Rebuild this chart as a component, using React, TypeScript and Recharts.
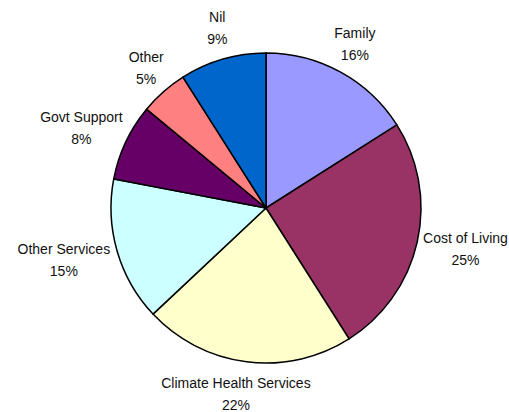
import React from 'react';
import { PieChart, Pie, Cell } from 'recharts';

const categories = [
  'Family',
  'Cost of Living',
  'Climate Health Services',
  'Other Services',
  'Govt Support',
  'Other',
  'Nil',
];
const shares = [16, 25, 22, 15, 8, 5, 9];
const colors = ['#9999FF', '#993366', '#FFFFCC', '#CCFFFF', '#660066', '#FF8080', '#0066CC'];

const data = categories.map((name, i) => ({ name, value: shares[i] }));

const WIDTH = 509;
const HEIGHT = 412;
const RADIAN = Math.PI / 180;
const GAP = 10;
const CHAR_W = 6.5;
const HALF_H = 22;
const FONT = "'Liberation Sans', Arial, sans-serif";

// label box pushed outward from the rim, like the Excel "outside end" labels
const renderLabel = (props: any) => {
  const { cx, cy, midAngle, outerRadius, name, value } = props;
  const ux = Math.cos(-midAngle * RADIAN);
  const uy = Math.sin(-midAngle * RADIAN);
  const halfW = (name.length * CHAR_W) / 2;
  let x = cx + ux * (outerRadius + GAP + halfW);
  const y = cy + uy * (outerRadius + GAP + HALF_H);
  // keep the box inside the chart
  x = Math.min(Math.max(x, halfW + 2), WIDTH - halfW + 2);
  return (
    <g>
      <text x={x} y={y - 11} textAnchor="middle" dominantBaseline="central" fill="#111" fontSize={14} fontFamily={FONT}>
        {name}
      </text>
      <text x={x} y={y + 11} textAnchor="middle" dominantBaseline="central" fill="#111" fontSize={14} fontFamily={FONT}>
        {`${value}%`}
      </text>
    </g>
  );
};

export default function App() {
  return (
    <div style={{ position: 'absolute', left: 0, top: 0, width: WIDTH, height: HEIGHT, background: '#fff' }}>
      <PieChart width={WIDTH} height={HEIGHT} margin={{ top: 0, right: 0, bottom: 0, left: 0 }}>
        <Pie
          data={data}
          dataKey="value"
          nameKey="name"
          cx={266}
          cy={208}
          outerRadius={155}
          startAngle={90}
          endAngle={-270}
          stroke="#000"
          strokeWidth={1.5}
          label={renderLabel}
          labelLine={false}
          isAnimationActive={false}
        >
          {data.map((d, i) => (
            <Cell key={d.name} fill={colors[i]} />
          ))}
        </Pie>
      </PieChart>
    </div>
  );
}
